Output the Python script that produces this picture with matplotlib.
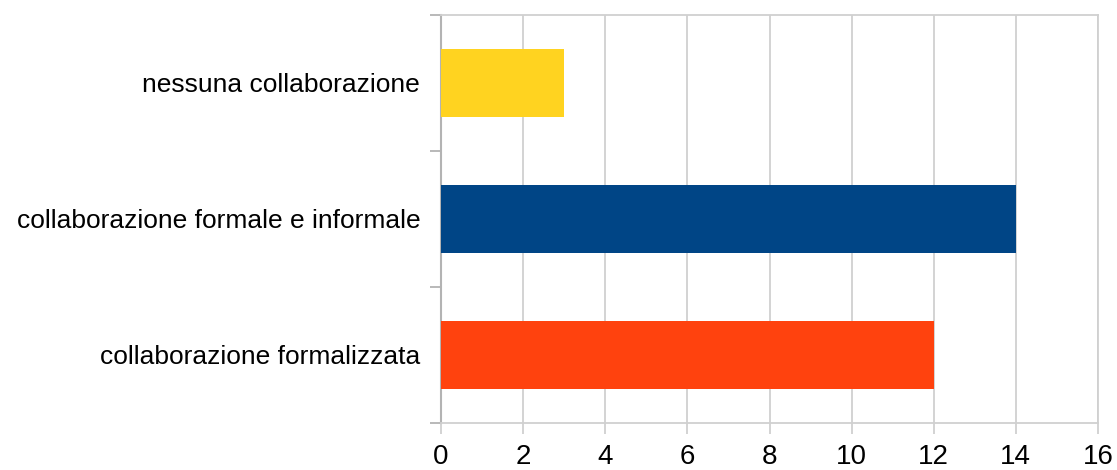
import matplotlib
matplotlib.use("Agg")
import matplotlib.pyplot as plt
import numpy as np

categories = ["collaborazione formalizzata", "collaborazione formale e informale", "nessuna collaborazione"]
values = [12, 14, 3]
colors = ["#FF420E", "#004586", "#FFD320"]
xticks = [0, 2, 4, 6, 8, 10, 12, 14, 16]

plt.rcParams["font.family"] = ["Liberation Sans", "DejaVu Sans"]

fig = plt.figure(figsize=(11.17, 4.70), dpi=100)
ax = fig.add_axes([441 / 1117, 1 - 423 / 470, (1098 - 441) / 1117, (423 - 15) / 470])

y = np.arange(len(categories))
ax.barh(y, values, height=0.5, color=colors, zorder=3)

ax.set_xlim(0, 16)
ax.set_ylim(-0.5, len(categories) - 0.5)
ax.set_xticks(xticks)
ax.set_xticklabels([str(t) for t in xticks], fontsize=20)
ax.set_yticks(y)
ax.set_yticklabels(categories, fontsize=19)
ax.set_yticks(np.arange(-0.5, len(categories)), minor=True)

grid_c = "#d0d0d0"
axis_c = "#b3b3b3"
ax.grid(axis="x", color=grid_c, linewidth=1.3, zorder=0)
ax.tick_params(axis="y", which="major", length=0, pad=15)
ax.tick_params(axis="y", which="minor", length=8, width=1.3, color=axis_c)
ax.tick_params(axis="x", length=8, width=1.3, color=grid_c, pad=7)

for side in ["top", "bottom"]:
    ax.spines[side].set_color(grid_c)
    ax.spines[side].set_linewidth(1.3)
ax.spines["left"].set_color(axis_c)
ax.spines["left"].set_linewidth(1.5)
ax.spines["right"].set_color(grid_c)
ax.spines["right"].set_linewidth(1.3)

fig.savefig("out.png", dpi=100)
